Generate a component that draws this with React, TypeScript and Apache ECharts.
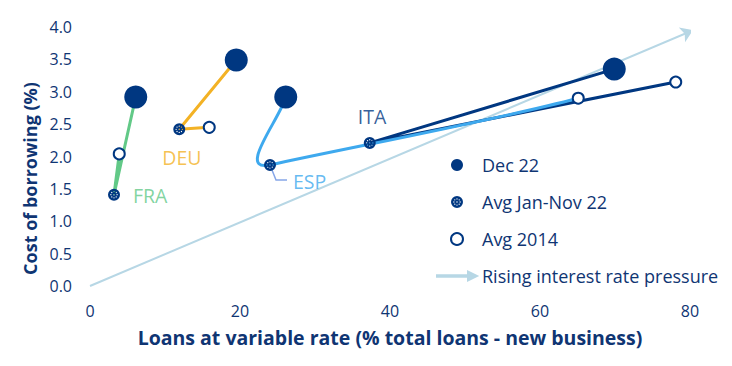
import React, { useEffect, useRef } from "react";
import * as echarts from "echarts";

// ---- Data ----
const countries = ["FRA", "DEU", "ESP", "ITA"];
const dec22: number[][] = [
  [6.1, 2.92],
  [19.5, 3.49],
  [26.1, 2.92],
  [69.9, 3.35],
];
const avgJanNov22: number[][] = [
  [3.2, 1.41],
  [11.9, 2.42],
  [24.0, 1.87],
  [37.3, 2.21],
];
const avg2014: number[][] = [
  [3.9, 2.04],
  [15.9, 2.45],
  [65.1, 2.9],
  [78.1, 3.15],
];
const pressureArrow: number[][] = [
  [0, 0],
  [80.4, 3.95],
];
const xTicks = [0, 20, 40, 60, 80];
const yTicks = [0, 0.5, 1, 1.5, 2, 2.5, 3, 3.5, 4];

// ---- Styles ----
const NAVY = "#003781";
const TEXT = "#0f3573";
const FONT = "'Open Sans', sans-serif";
const COUNTRY_COLOR: Record<string, string> = {
  FRA: "#62c987",
  DEU: "#f3b225",
  ESP: "#3ea9ee",
  ITA: NAVY,
};
const LABEL_OFFSET: Record<string, number[]> = {
  FRA: [19, 1],
  DEU: [-17, 28],
  ESP: [23, 17],
  ITA: [-12, -26],
};

const hole = (cx: number, cy: number, r: number) =>
  `M${cx},${cy - r} A${r},${r} 0 1,0 ${cx},${cy + r} A${r},${r} 0 1,0 ${cx},${cy - r} Z `;
const ringHoles = [0, 1, 2, 3, 4, 5, 6, 7]
  .map((k) => {
    const a = (k * Math.PI) / 4;
    return hole(+(5.2 * Math.cos(a)).toFixed(2), +(5.2 * Math.sin(a)).toFixed(2), 1.1);
  })
  .join("");
const HATCH_SYMBOL =
  "path://M0,-10 A10,10 0 1,1 0,10 A10,10 0 1,1 0,-10 Z " + ringHoles + hole(0, 0, 1.2);
const ARROW_ICON = "path://M0,4.2 L31,4.2 L31,0.5 L40,5 L31,9.5 L31,5.8 L0,5.8 Z";

export default function App() {
  const ref = useRef<HTMLDivElement>(null);

  useEffect(() => {
    if (!ref.current) return;
    const chart = echarts.init(ref.current, undefined, { renderer: "svg" });

    const straightSeries = countries
      .filter((c) => c !== "ESP")
      .map((c) => {
        const i = countries.indexOf(c);
        return {
          type: "line",
          name: c,
          data: [dec22[i], avgJanNov22[i], avg2014[i]],
          showSymbol: false,
          symbol: "none",
          z: 2,
          lineStyle: { color: COUNTRY_COLOR[c], width: 3 },
          silent: true,
        };
      });

    const espIdx = countries.indexOf("ESP");
    const espPoints = [dec22[espIdx], avgJanNov22[espIdx], avg2014[espIdx]];

    // ESP: smooth curve through its three points (drawn with the axes' scales)
    const espSeries = {
      type: "custom",
      name: "ESP",
      coordinateSystem: "cartesian2d",
      z: 3,
      silent: true,
      data: espPoints,
      renderItem: (params: any, api: any) => {
        if (params.dataIndex !== 0) return null;
        const [a, b, c] = espPoints.map((p) => api.coord(p) as number[]);
        const d2x = c[0] - b[0];
        const d2y = c[1] - b[1];
        const len2 = Math.hypot(d2x, d2y);
        const tx = d2x / len2;
        const ty = d2y / len2;
        const len1 = Math.hypot(b[0] - a[0], b[1] - a[1]);
        const k1 = 0.5 * len1;
        const cp1 = [a[0] + (b[0] - a[0]) * 0.3, a[1] + (b[1] - a[1]) * 0.3];
        const cp2 = [b[0] - tx * k1, b[1] - ty * k1];
        const k2 = 0.3 * len2;
        const cp3 = [b[0] + tx * k2, b[1] + ty * k2];
        const cp4 = [c[0] - d2x * 0.3, c[1] - d2y * 0.3 + 4];
        const style = {
          stroke: COUNTRY_COLOR.ESP,
          lineWidth: 3,
          fill: null,
          lineCap: "round",
        };
        return {
          type: "group",
          children: [
            {
              type: "bezierCurve",
              shape: {
                x1: a[0], y1: a[1], cpx1: cp1[0], cpy1: cp1[1],
                cpx2: cp2[0], cpy2: cp2[1], x2: b[0], y2: b[1],
              },
              style,
            },
            {
              type: "bezierCurve",
              shape: {
                x1: b[0], y1: b[1], cpx1: cp3[0], cpy1: cp3[1],
                cpx2: cp4[0], cpy2: cp4[1], x2: c[0], y2: c[1],
              },
              style,
            },
          ],
        };
      },
    };

    const option: any = {
      animation: false,
      textStyle: { fontFamily: FONT },
      grid: { left: 90, right: 42, top: 27, bottom: 80, containLabel: false },
      xAxis: {
        type: "value",
        min: xTicks[0],
        max: xTicks[xTicks.length - 1],
        interval: 20,
        axisLine: { show: false },
        axisTick: { show: false },
        splitLine: { show: false },
        axisLabel: { color: TEXT, fontSize: 16, margin: 17, fontFamily: FONT },
        name: "Loans at variable rate (% total loans - new business)",
        nameLocation: "middle",
        nameGap: 41,
        nameTextStyle: { color: TEXT, fontSize: 19.5, fontWeight: "bold", fontFamily: FONT },
      },
      yAxis: {
        type: "value",
        min: yTicks[0],
        max: yTicks[yTicks.length - 1],
        interval: 0.5,
        axisLine: { show: false },
        axisTick: { show: false },
        splitLine: { show: false },
        axisLabel: {
          color: TEXT,
          fontSize: 16,
          margin: 18,
          fontFamily: FONT,
          formatter: (v: number) => v.toFixed(1),
        },
        name: "Cost of borrowing (%)",
        nameLocation: "middle",
        nameGap: 46,
        nameTextStyle: {
          color: TEXT,
          fontSize: 18,
          fontWeight: "bold",
          fontFamily: FONT,
          padding: [0, 44, 0, 0],
        },
      },
      legend: {
        orient: "vertical",
        left: 431,
        top: 151,
        itemWidth: 40,
        itemHeight: 12,
        itemGap: 19,
        textStyle: { color: TEXT, fontSize: 18, fontFamily: FONT },
        selectedMode: false,
        data: [
          { name: "Dec 22", icon: "circle" },
          { name: "Avg Jan-Nov 22", icon: HATCH_SYMBOL },
          {
            name: "Avg 2014",
            icon: "circle",
            itemStyle: { color: "#ffffff", borderColor: NAVY, borderWidth: 2 },
          },
          { name: "Rising interest rate pressure", icon: ARROW_ICON },
        ],
      },
      series: [
        {
          type: "lines",
          name: "Rising interest rate pressure",
          coordinateSystem: "cartesian2d",
          symbol: ["none", "arrow"],
          symbolSize: 12,
          z: 1,
          silent: true,
          lineStyle: { color: "#b7d7e5", width: 2, opacity: 1 },
          itemStyle: { color: "#b7d7e5" },
          data: [{ coords: pressureArrow }],
        },
        ...straightSeries,
        espSeries,
        {
          type: "scatter",
          name: "Dec 22",
          symbol: "circle",
          symbolSize: 23,
          z: 5,
          itemStyle: { color: NAVY, opacity: 1 },
          data: dec22,
        },
        {
          type: "scatter",
          name: "Avg Jan-Nov 22",
          symbol: HATCH_SYMBOL,
          symbolSize: 12,
          z: 5,
          itemStyle: { color: NAVY, opacity: 1 },
          data: avgJanNov22,
        },
        {
          type: "scatter",
          name: "Avg 2014",
          symbol: "circle",
          symbolSize: 11,
          z: 5,
          itemStyle: { color: "#ffffff", borderColor: NAVY, borderWidth: 2, opacity: 1 },
          data: avg2014,
        },
        {
          type: "scatter",
          name: "country-labels",
          symbolSize: 0,
          z: 6,
          silent: true,
          data: countries.map((c, i) => ({
            name: c,
            value: avgJanNov22[i],
            label: {
              show: true,
              formatter: c,
              position: "inside",
              align: "left",
              verticalAlign: "middle",
              offset: LABEL_OFFSET[c],
              color: COUNTRY_COLOR[c],
              fontSize: 19.5,
              fontFamily: FONT,
            },
          })),
        },
      ],
    };

    chart.setOption(option);

    const p = chart.convertToPixel({ gridIndex: 0 }, avgJanNov22[espIdx]) as number[];
    chart.setOption({
      graphic: [
        {
          type: "polyline",
          z: 4,
          silent: true,
          shape: {
            points: [
              [p[0], p[1]],
              [p[0] + 6, p[1] + 15],
              [p[0] + 17, p[1] + 15],
            ],
          },
          style: { stroke: "#86a6e8", lineWidth: 1.5, fill: "none" },
        },
      ],
    });

    return () => chart.dispose();
  }, []);

  return (
    <div
      ref={ref}
      style={{ position: "absolute", left: 0, top: 0, width: 732, height: 366 }}
    />
  );
}
